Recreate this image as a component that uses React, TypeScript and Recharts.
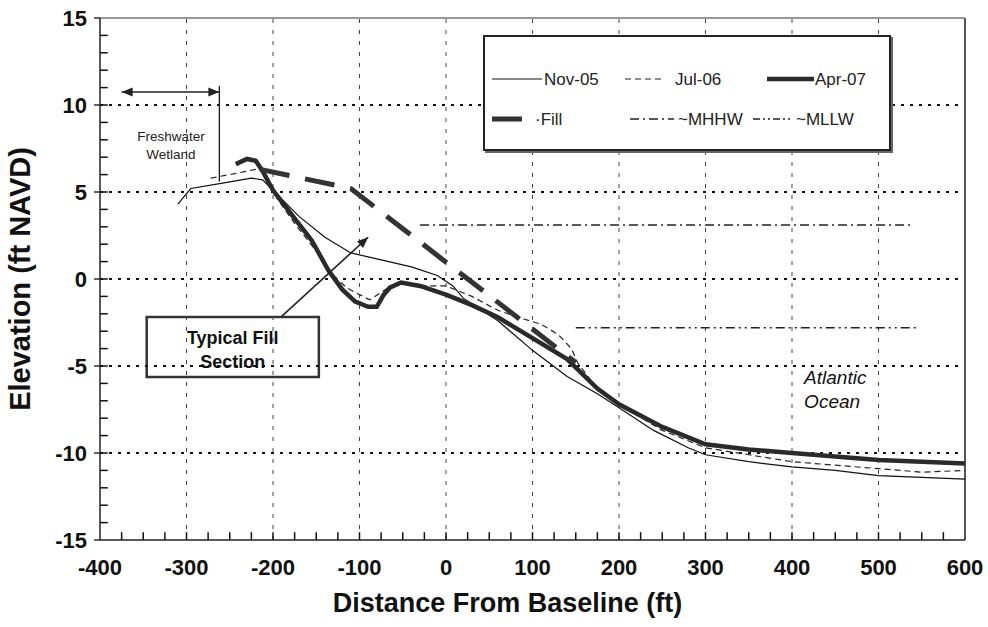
import React from "react"
import {
  Legend,
  Line,
  LineChart,
  ReferenceArea,
  ReferenceDot,
  ReferenceLine,
  XAxis,
  YAxis,
} from "recharts"

type Pt = { x: number; y: number }

const nov05: Pt[] = [
  { x: -310, y: 4.3 }, { x: -295, y: 5.2 }, { x: -260, y: 5.5 }, { x: -225, y: 5.8 },
  { x: -212, y: 5.7 }, { x: -200, y: 5.1 }, { x: -170, y: 3.6 }, { x: -140, y: 2.4 },
  { x: -110, y: 1.5 }, { x: -75, y: 1.1 }, { x: -40, y: 0.7 }, { x: -10, y: 0.2 },
  { x: 8, y: -0.4 }, { x: 20, y: -1.1 }, { x: 60, y: -2.4 }, { x: 100, y: -4.1 },
  { x: 140, y: -5.6 }, { x: 175, y: -6.6 }, { x: 200, y: -7.4 }, { x: 240, y: -8.7 },
  { x: 280, y: -9.7 }, { x: 300, y: -10.1 }, { x: 350, y: -10.5 }, { x: 400, y: -10.8 },
  { x: 450, y: -11.0 }, { x: 500, y: -11.3 }, { x: 550, y: -11.4 }, { x: 600, y: -11.5 },
]

const jul06: Pt[] = [
  { x: -272, y: 5.8 }, { x: -250, y: 6.0 }, { x: -220, y: 6.3 }, { x: -210, y: 6.2 },
  { x: -195, y: 4.6 }, { x: -175, y: 3.2 }, { x: -150, y: 1.6 }, { x: -130, y: 0.2 },
  { x: -115, y: -0.5 }, { x: -100, y: -0.9 }, { x: -88, y: -1.2 }, { x: -70, y: -0.6 },
  { x: -55, y: -0.2 }, { x: -20, y: -0.4 }, { x: 0, y: -0.4 }, { x: 30, y: -1.0 },
  { x: 60, y: -1.8 }, { x: 90, y: -2.3 }, { x: 110, y: -2.6 }, { x: 130, y: -3.2 },
  { x: 145, y: -4.0 }, { x: 152, y: -4.8 }, { x: 170, y: -6.0 }, { x: 200, y: -7.2 },
  { x: 250, y: -8.7 }, { x: 300, y: -9.7 }, { x: 350, y: -10.1 }, { x: 400, y: -10.5 },
  { x: 450, y: -10.7 }, { x: 500, y: -10.9 }, { x: 550, y: -11.1 }, { x: 600, y: -11.0 },
]

const apr07: Pt[] = [
  { x: -243, y: 6.6 }, { x: -230, y: 6.9 }, { x: -220, y: 6.8 }, { x: -212, y: 6.2 },
  { x: -200, y: 5.1 }, { x: -180, y: 3.8 }, { x: -155, y: 2.2 }, { x: -136, y: 0.5 },
  { x: -120, y: -0.6 }, { x: -105, y: -1.3 }, { x: -90, y: -1.6 }, { x: -80, y: -1.6 },
  { x: -72, y: -0.9 }, { x: -65, y: -0.5 }, { x: -52, y: -0.2 }, { x: -30, y: -0.4 },
  { x: 0, y: -0.9 }, { x: 30, y: -1.5 }, { x: 60, y: -2.2 }, { x: 100, y: -3.4 },
  { x: 140, y: -4.6 }, { x: 175, y: -6.3 }, { x: 200, y: -7.2 }, { x: 250, y: -8.5 },
  { x: 300, y: -9.5 }, { x: 350, y: -9.8 }, { x: 400, y: -10.0 }, { x: 450, y: -10.2 },
  { x: 500, y: -10.4 }, { x: 550, y: -10.5 }, { x: 600, y: -10.6 },
]

const fill: Pt[] = [{ x: -215, y: 6.3 }, { x: -110, y: 5.2 }, { x: 150, y: -4.8 }]
const mhhw: Pt[] = [{ x: -30, y: 3.1 }, { x: 540, y: 3.1 }]
const mllw: Pt[] = [{ x: 150, y: -2.8 }, { x: 545, y: -2.8 }]

const xMinor = [
  -375, -350, -325, -300, -275, -250, -225, -200, -175, -150, -125, -100, -75, -50, -25,
  0, 25, 50, 75, 100, 125, 150, 175, 200, 225, 250, 275, 300, 325, 350, 375, 400, 425, 450,
  475, 500, 525, 550, 575,
]
const yMinor = [
  -14, -13, -12, -11, -10, -9, -8, -7, -6, -5, -4, -3, -2, -1, 0, 1, 2, 3, 4, 5, 6, 7, 8,
  9, 10, 11, 12, 13, 14,
]
const xMajor = [-400, -300, -200, -100, 0, 100, 200, 300, 400, 500, 600]
const yMajor = [-15, -10, -5, 0, 5, 10, 15]
const xGrid = [-300, -200, -100, 0, 100, 200, 300, 400, 500]
const yGrid = [-10, -5, 0, 5, 10]

// annotation anchors in data units
const wetlandArrow: Pt[] = [{ x: -375, y: 10.75 }, { x: -262, y: 10.75 }]
const wetlandBracket: Pt[] = [{ x: -262, y: 11.1 }, { x: -262, y: 5.6 }]
const fillArrow: Pt[] = [{ x: -190, y: -2.15 }, { x: -90, y: 2.4 }]
const fillBox = { x1: -346, x2: -147, y1: -5.63, y2: -2.18 }

const FONT = "'Liberation Sans', Arial, sans-serif"
const labelStyle = { fontFamily: FONT, fontWeight: "bold", fontSize: 22, fill: "#111" }

const series = [
  { name: "Nov-05", data: nov05, stroke: "#111", width: 1.2, dash: undefined },
  { name: "Jul-06", data: jul06, stroke: "#222", width: 1.2, dash: "6 4" },
  { name: "Apr-07", data: apr07, stroke: "#2a2a2a", width: 4.5, dash: undefined },
  { name: "Fill", data: fill, stroke: "#333", width: 5, dash: "30 16" },
  { name: "~MHHW", data: mhhw, stroke: "#222", width: 1.5, dash: "9 4 2 4" },
  { name: "~MLLW", data: mllw, stroke: "#222", width: 1.5, dash: "9 4 2 4 2 4" },
]

function arrowHead(x1: number, y1: number, x2: number, y2: number) {
  const a = Math.atan2(y2 - y1, x2 - x1)
  const L = 11
  const W = 4.5
  const bx = x2 - L * Math.cos(a)
  const by = y2 - L * Math.sin(a)
  const px = -Math.sin(a) * W
  const py = Math.cos(a) * W
  return `${x2},${y2} ${bx + px},${by + py} ${bx - px},${by - py}`
}

function ArrowLine(props: any) {
  const { x1, y1, x2, y2, both } = props
  return (
    <g>
      <line x1={x1} y1={y1} x2={x2} y2={y2} stroke="#222" strokeWidth={1.6} />
      <polygon points={arrowHead(x1, y1, x2, y2)} fill="#222" />
      {both && <polygon points={arrowHead(x2, y2, x1, y1)} fill="#222" />}
    </g>
  )
}

function LegendBox() {
  const row1 = 42
  const row2 = 82
  const txt = { fontFamily: FONT, fontSize: 17, fill: "#222" }
  return (
    <div
      style={{
        width: 404,
        height: 112,
        border: "2.5px solid #222",
        boxShadow: "2px 2px 0 #666",
        background: "#fff",
      }}
    >
      <svg width={404} height={112}>
        <line x1={7} x2={57} y1={row1} y2={row1} stroke="#111" strokeWidth={1.2} />
        <text x={59} y={row1 + 6} {...txt}>Nov-05</text>
        <line x1={140} x2={180} y1={row1} y2={row1} stroke="#222" strokeWidth={1.2} strokeDasharray="6 4" />
        <text x={190} y={row1 + 6} {...txt}>Jul-06</text>
        <line x1={282} x2={329} y1={row1} y2={row1} stroke="#2a2a2a" strokeWidth={4.5} />
        <text x={330} y={row1 + 6} {...txt}>Apr-07</text>
        <line x1={7} x2={37} y1={row2} y2={row2} stroke="#333" strokeWidth={5} />
        <text x={50} y={row2 + 6} {...txt}>·Fill</text>
        <line x1={145} x2={189} y1={row2} y2={row2} stroke="#222" strokeWidth={1.5} strokeDasharray="9 4 2 4" />
        <text x={193} y={row2 + 6} {...txt}>~MHHW</text>
        <line x1={268} x2={307} y1={row2} y2={row2} stroke="#222" strokeWidth={1.5} strokeDasharray="7 3 2 3 2 3" />
        <text x={311} y={row2 + 6} {...txt}>~MLLW</text>
      </svg>
    </div>
  )
}

export default function App() {
  return (
    <div style={{ position: "absolute", left: 0, top: 0, background: "#fff" }}>
      <LineChart width={988} height={627} margin={{ top: 18, right: 23, bottom: 0, left: 0 }}>
        <XAxis
          type="number"
          dataKey="x"
          domain={[-400, 600]}
          ticks={xMajor}
          interval={0}
          tickSize={0}
          tickMargin={19}
          tickLine={false}
          tick={labelStyle}
          height={87}
          axisLine={{ stroke: "#222", strokeWidth: 1.5 }}
          allowDuplicatedCategory={false}
          label={{
            value: "Distance From Baseline (ft)",
            position: "insideBottom",
            offset: 15,
            dx: -25,
            style: { fontFamily: FONT, fontWeight: "bold", fontSize: 27, fill: "#111" },
          }}
        />
        <YAxis
          type="number"
          dataKey="y"
          domain={[-15, 15]}
          ticks={yMajor}
          interval={0}
          tickSize={6}
          tickMargin={7}
          tickLine={{ stroke: "#111", strokeWidth: 1.3 }}
          tick={labelStyle}
          width={100}
          axisLine={{ stroke: "#222", strokeWidth: 1.5 }}
          label={{
            value: "Elevation (ft NAVD)",
            angle: -90,
            position: "insideLeft",
            offset: 20,
            style: { fontFamily: FONT, fontWeight: "bold", fontSize: 29, fill: "#111", textAnchor: "middle" },
          }}
        />
        {xGrid.map((v) => (
          <ReferenceLine key={`gx${v}`} x={v} stroke="#444" strokeWidth={1} strokeDasharray="4 7" />
        ))}
        {yGrid.map((v) => (
          <ReferenceLine key={`gy${v}`} y={v} stroke="#111" strokeWidth={2} strokeDasharray="3 6" />
        ))}
        {xMinor.map((v) => (
          <ReferenceLine
            key={`mx${v}`}
            segment={[{ x: v, y: -15 }, { x: v, y: -14.55 }]}
            stroke="#111"
            strokeWidth={1.5}
          />
        ))}
        {yMinor.map((v) => (
          <ReferenceLine
            key={`my${v}`}
            segment={[{ x: -400, y: v }, { x: -391, y: v }]}
            stroke="#111"
            strokeWidth={1.5}
          />
        ))}
        <ReferenceLine y={15} stroke="#777" strokeWidth={1.5} />
        <ReferenceLine x={600} stroke="#555" strokeWidth={2} />

        {series.map((s) => (
          <Line
            key={s.name}
            data={s.data}
            dataKey="y"
            name={s.name}
            type="linear"
            stroke={s.stroke}
            strokeWidth={s.width}
            strokeDasharray={s.dash}
            dot={false}
            activeDot={false}
            isAnimationActive={false}
          />
        ))}

        <ReferenceLine segment={wetlandArrow} shape={<ArrowLine both />} ifOverflow="visible" />
        <ReferenceLine segment={wetlandBracket} stroke="#222" strokeWidth={1.4} ifOverflow="visible" />
        <ReferenceDot
          x={-318}
          y={7.6}
          r={0}
          ifOverflow="visible"
          shape={(p: any) => (
            <text x={p.cx} y={p.cy} textAnchor="middle" fontFamily={FONT} fontSize={13.5} fill="#222">
              <tspan x={p.cx} dy={-6}>Freshwater</tspan>
              <tspan x={p.cx} dy={18}>Wetland</tspan>
            </text>
          )}
        />
        <ReferenceLine segment={fillArrow} shape={<ArrowLine />} ifOverflow="visible" />
        <ReferenceArea
          x1={fillBox.x1}
          x2={fillBox.x2}
          y1={fillBox.y1}
          y2={fillBox.y2}
          fill="#fff"
          fillOpacity={1}
          stroke="#333"
          strokeWidth={2.5}
          ifOverflow="visible"
        />
        <ReferenceDot
          x={(fillBox.x1 + fillBox.x2) / 2}
          y={fillBox.y1}
          r={0}
          ifOverflow="visible"
          shape={(p: any) => (
            <text x={p.cx} y={p.cy} textAnchor="middle" fontFamily={FONT} fontWeight="bold" fontSize={18} fill="#111">
              <tspan x={p.cx} dy={-33}>Typical Fill</tspan>
              <tspan x={p.cx} dy={24}>Section</tspan>
            </text>
          )}
        />
        <ReferenceDot
          x={414}
          y={-6.0}
          r={0}
          ifOverflow="visible"
          shape={(p: any) => (
            <text x={p.cx} y={p.cy} fontFamily={FONT} fontStyle="italic" fontSize={19} fill="#111">
              <tspan x={p.cx} dy={1}>Atlantic</tspan>
              <tspan x={p.cx} dy={24}>Ocean</tspan>
            </text>
          )}
        />
        <Legend
          layout="vertical"
          align="center"
          verticalAlign="middle"
          wrapperStyle={{ left: 483, top: 35, width: 409, height: 117 }}
          content={() => <LegendBox />}
        />
      </LineChart>
    </div>
  )
}
